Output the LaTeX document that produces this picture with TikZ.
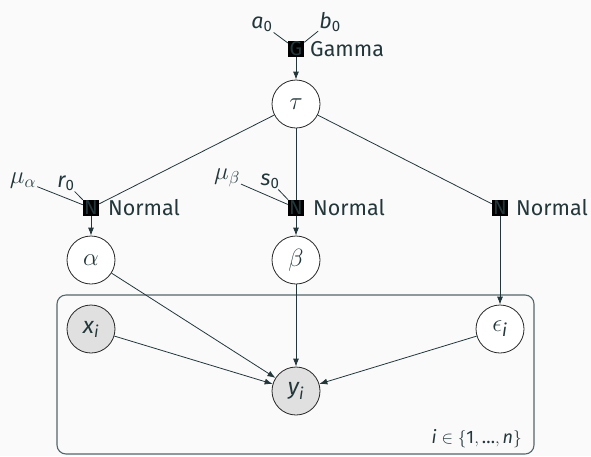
\documentclass[tikz,border=0pt]{standalone}
\usepackage{amsmath}
\usepackage{fontspec}
\setmainfont{Fira Sans}
\usetikzlibrary{arrows.meta}
\definecolor{mDarkTeal}{HTML}{23373B}
\definecolor{bgcol}{HTML}{FAFAFA}
\definecolor{obscol}{HTML}{E0E0E0}
\definecolor{platecol}{HTML}{55666A}
\newcommand{\lv}[1]{\textit{#1}}
\tikzset{
  latentnode/.style={circle, draw=black!85, fill=white, minimum size=48pt, inner sep=0pt, line width=0.8pt, text=mDarkTeal, font=\fontsize{23}{27}\selectfont},
  greeknode/.style={latentnode, font=\fontsize{28}{32}\selectfont},
  obsnode/.style={latentnode, fill=obscol},
  factornode/.style={rectangle, fill=black, minimum size=16pt, inner sep=0pt, text=mDarkTeal, font=\fontsize{20}{24}\selectfont},
  edgeline/.style={draw=mDarkTeal, line width=0.8pt},
  arrowline/.style={edgeline, -{Latex[length=8pt,width=6pt]}},
  lbl/.style={text=mDarkTeal, inner sep=1pt},
  mathlbl/.style={lbl, font=\fontsize{23}{27}\selectfont},
  platebox/.style={draw=platecol, rounded corners=9pt, line width=1.1pt}
}
\begin{document}
\begin{tikzpicture}[x=1pt, y=-1pt, font=\fontsize{21.5}{26}\selectfont]
\fill[bgcol] (0,0) rectangle (591,456);
\useasboundingbox (0,0) rectangle (591,456);

% plate
\draw[platebox] (57,295) rectangle (534,454);
\node[lbl, anchor=base east, font=\fontsize{18}{22}\selectfont] (platelbl) at (523,443) {$\lv{i}\in\{\textup{1},\textup{\ldots},\lv{n}\}$};

% Gamma factor
\node[factornode] (fg) at (296,49) {G};
\node[lbl, anchor=west] (gname) at (309,49) {Gamma};
\node[lbl, anchor=base] (a0) at (262,28) {$\lv{a}_{\textup{0}}$};
\node[lbl, anchor=base] (b0) at (330,28) {$\lv{b}_{\textup{0}}$};
\draw[edgeline] (a0) -- (fg);
\draw[edgeline] (b0) -- (fg);

% tau
\node[greeknode] (tau) at (296,104) {$\tau$};
\draw[arrowline] (fg) -- (tau);

% Normal factors
\node[factornode] (fa) at (91,208) {N};
\node[lbl, anchor=west] (na) at (107,208) {Normal};
\node[factornode] (fb) at (296,208) {N};
\node[lbl, anchor=west] (nb) at (312,208) {Normal};
\node[factornode] (fe) at (500,208) {N};
\node[lbl, anchor=west] (ne) at (515,208) {Normal};

\draw[edgeline] (tau) -- (fa);
\draw[edgeline] (tau) -- (fb);
\draw[edgeline] (tau) -- (fe);

% hyperparameters
\node[mathlbl] (mua) at (23,181) {$\mu_\alpha$};
\node[lbl, anchor=base] (r0) at (66,187) {$\lv{r}_{\textup{0}}$};
\node[mathlbl] (mub) at (227,178) {$\mu_\beta$};
\node[lbl, anchor=base] (s0) at (270,185) {$\lv{s}_{\textup{0}}$};
\draw[edgeline] (mua) -- (fa);
\draw[edgeline] (r0) -- (fa);
\draw[edgeline] (mub) -- (fb);
\draw[edgeline] (s0) -- (fb);

% latent variables
\node[greeknode] (alpha) at (91,260) {$\alpha$};
\node[greeknode] (beta) at (296,260) {$\beta$};
\draw[arrowline] (fa) -- (alpha);
\draw[arrowline] (fb) -- (beta);

% plate content
\node[obsnode] (x) at (91,329) {$\lv{x}_{\lv{i}}$};
\node[latentnode, font=\fontsize{25}{29}\selectfont] (eps) at (500,329) {$\epsilon_{\lv{i}}$};
\node[obsnode] (y) at (296,391) {$\lv{y}_{\lv{i}}$};
\draw[arrowline] (fe) -- (eps);

\draw[arrowline] (alpha) -- (y);
\draw[arrowline] (beta) -- (y);
\draw[arrowline] (x) -- (y);
\draw[arrowline] (eps) -- (y);
\end{tikzpicture}
\end{document}
